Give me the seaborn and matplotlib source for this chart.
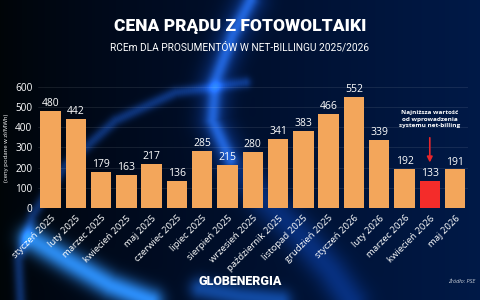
import matplotlib.pyplot as plt
import seaborn as sns
import numpy as np
import pandas as pd

months = ['styczeń 2025', 'luty 2025', 'marzec 2025', 'kwiecień 2025', 'maj 2025',
          'czerwiec 2025', 'lipiec 2025', 'sierpień 2025', 'wrzesień 2025',
          'październik 2025', 'listopad 2025', 'grudzień 2025', 'styczeń 2026',
          'luty 2026', 'marzec 2026', 'kwiecień 2026', 'maj 2026']
prices = [480, 442, 179, 163, 217, 136, 285, 215, 280, 341, 383, 466, 552, 339, 192, 133, 191]
lowest = 'kwiecień 2026'

df = pd.DataFrame({'month': months, 'price': prices})
palette = {m: ('#f42c2a' if m == lowest else '#f3a65b') for m in months}

sns.set_style('dark')
plt.rcParams['font.family'] = ['Open Sans', 'DejaVu Sans']

fig = plt.figure(figsize=(4.8, 3.0), dpi=100)

# decorative background: dark navy with blue light streaks
W, H = 480, 300
yy, xx = np.mgrid[0:H, 0:W].astype(float)
img = np.zeros((H, W, 3))
img[..., 1] = 0.02 + 0.08 * (xx / W)
img[..., 2] = 0.03 + 0.25 * (xx / W) ** 0.8


def glow(pts, width, strength, color):
    pts = np.array(pts, float)
    seg = np.linspace(0, len(pts) - 1, 200)
    px = np.interp(seg, np.arange(len(pts)), pts[:, 0])
    py = np.interp(seg, np.arange(len(pts)), pts[:, 1])
    d = np.full((H, W), 1e9)
    for x0, y0 in zip(px, py):
        d = np.minimum(d, (xx - x0) ** 2 + (yy - y0) ** 2)
    g = np.exp(-d / (2 * width ** 2)) * strength
    for c in range(3):
        img[..., c] += g * color[c]


s_curve = [(250, 0), (232, 35), (215, 80), (212, 120), (230, 160), (265, 200),
           (300, 235), (330, 270), (350, 300)]
glow(s_curve, 12, 0.28, (0.1, 0.4, 1.0))
glow(s_curve[:5], 5, 0.4, (0.25, 0.55, 1.0))
glow([(245, 82), (175, 92), (115, 120), (65, 165), (32, 215), (18, 260), (20, 300)],
     4, 0.35, (0.15, 0.45, 1.0))
glow([(30, 238), (70, 262), (110, 285), (150, 300)], 9, 0.85, (0.2, 0.6, 1.0))
glow([(200, 288), (240, 296), (280, 300)], 8, 0.45, (0.15, 0.5, 1.0))
img = np.clip(img, 0, 1)

bg = fig.add_axes([0, 0, 1, 1])
bg.imshow(img, extent=[0, 1, 0, 1], aspect='auto', origin='upper')
bg.axis('off')

ax = fig.add_axes([0.0789, 0.3067, 0.8955, 0.4033])
sns.barplot(data=df, x='month', y='price', hue='month', palette=palette,
            legend=False, width=0.81, saturation=1, linewidth=0, ax=ax)
ax.set_facecolor('none')
ax.set_ylim(0, 600)
ax.set_xlim(-0.5, len(months) - 0.5)
ax.set_yticks(range(0, 601, 100))
ax.grid(axis='y', color='white', alpha=0.1, linewidth=0.6)
ax.grid(axis='x', visible=False)
ax.set_axisbelow(True)
for s in ax.spines.values():
    s.set_visible(False)
ax.tick_params(axis='y', colors='white', labelsize=7.2, length=0, pad=4)
ax.tick_params(axis='x', colors='white', labelsize=6.8, length=0, pad=4)
plt.setp(ax.get_xticklabels(), rotation=45, ha='right', rotation_mode='anchor')
ax.set_xlabel('')
ax.set_ylabel('(ceny podane w zł/MWh)', color='white', fontsize=4.3, labelpad=4)

for i, v in enumerate(prices):
    ax.text(i, v + 9, str(v), color='white', fontsize=7.5, ha='center', va='bottom')

li = months.index(lowest)
ax.annotate('', xy=(li, 212), xytext=(li, 362),
            arrowprops=dict(arrowstyle='-|>', color='#e8262b', lw=1.2, mutation_scale=8))
ax.text(li, 395, 'Najniższa wartość\nod wprowadzenia\nsystemu net-billing',
        color='white', fontsize=4.6, fontweight='bold', ha='center', va='bottom',
        linespacing=1.45)

fig.text(0.5, 0.913, 'CENA PRĄDU Z FOTOWOLTAIKI', color='white', fontsize=12.5,
         fontweight='heavy', ha='center', va='center', family=['Roboto', 'DejaVu Sans'])
fig.text(0.5, 0.844, 'RCEm DLA PROSUMENTÓW W NET-BILLINGU 2025/2026', color='white',
         fontsize=7.3, ha='center', va='center', family=['Roboto', 'DejaVu Sans'])
fig.text(0.5, 0.063, 'GLOBENERGIA', color='white', fontsize=9, fontweight='heavy',
         ha='center', va='center', family=['Roboto', 'DejaVu Sans'])
fig.text(0.99, 0.063, 'Źródło: PSE', color='white', fontsize=4, style='italic',
         ha='right', va='center', alpha=0.8)

fig.savefig('out.png', dpi=100, facecolor='#020a1c')
